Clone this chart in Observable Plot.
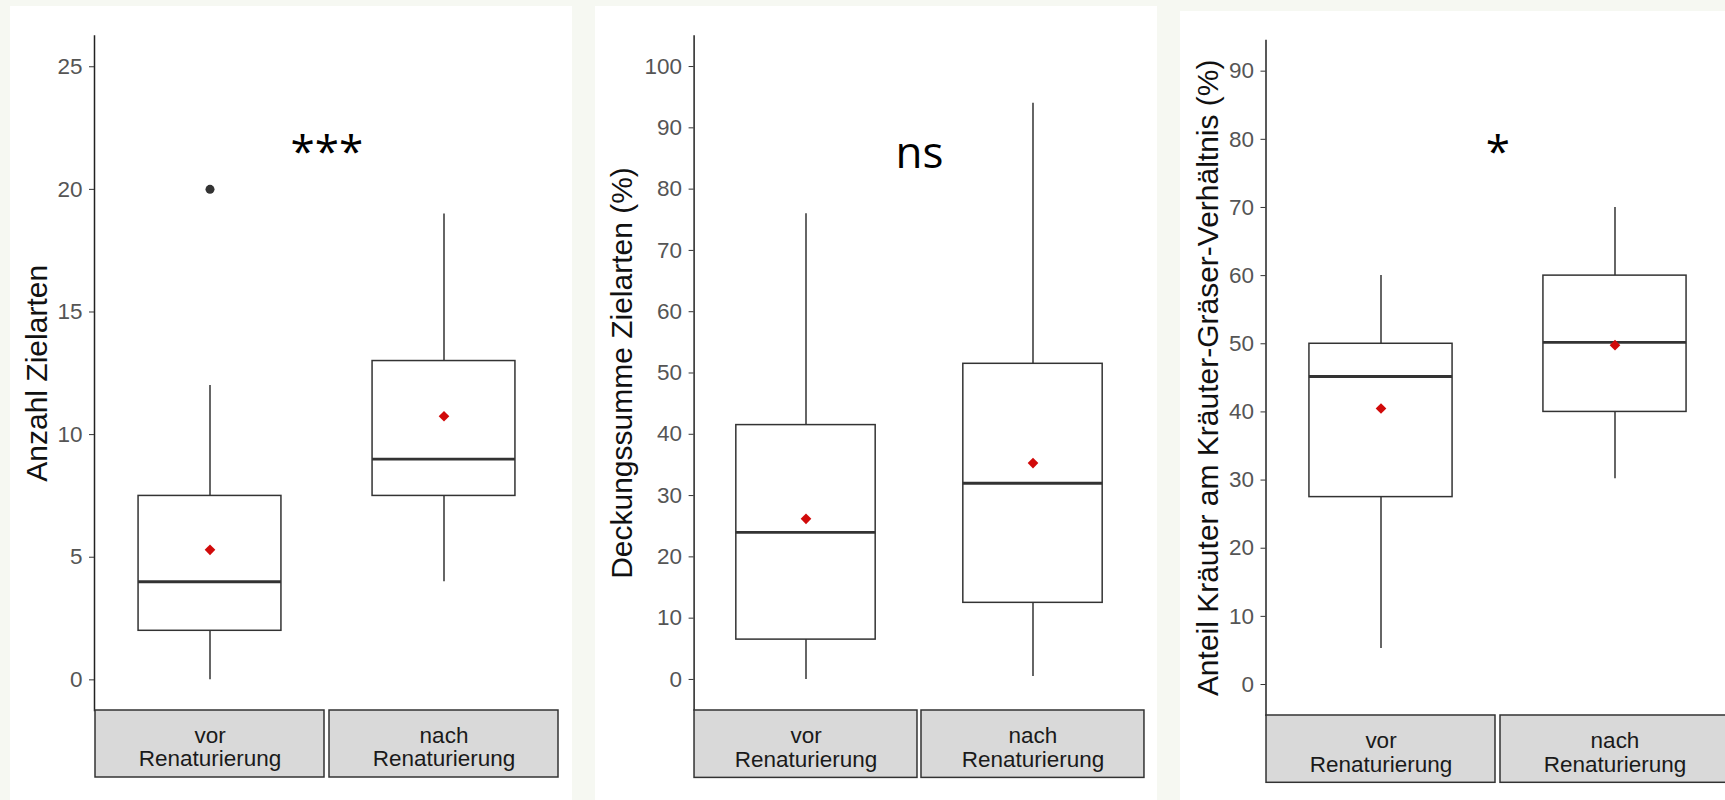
<!DOCTYPE html>
<html><head><meta charset="utf-8">
<script src="https://cdn.jsdelivr.net/npm/d3@7"></script>
<script src="https://cdn.jsdelivr.net/npm/@observablehq/plot@0.6"></script>
<style>
html,body{margin:0;padding:0;width:1725px;height:800px;overflow:hidden;background:#f6f8f2;}
.panel{position:absolute;background:#fff;overflow:hidden;}
.panel svg{position:absolute;left:0;display:block;font-family:'Liberation Sans', Arial, Helvetica, sans-serif;}
</style></head><body>
<script>
// ---------- data ----------
const groups = ["vor Renaturierung", "nach Renaturierung"];
const stripLabels = ["vor\nRenaturierung", "nach\nRenaturierung"];

// Panel 1: Anzahl Zielarten
const anzahlTitle = "Anzahl Zielarten";
const anzahlLimits = [0, 25];
const anzahlTicks = [0, 5, 10, 15, 20, 25];
const anzahlLow = [0, 4];
const anzahlQ1 = [2, 7.5];
const anzahlMedian = [4, 9];
const anzahlQ3 = [7.5, 13];
const anzahlHigh = [12, 19];
const anzahlMean = [5.3, 10.75];
const anzahlOutliers = [[20], []];
const anzahlSig = "***";
const anzahlSigY = 20.9;

// Panel 2: Deckungssumme Zielarten (%)
const deckTitle = "Deckungssumme Zielarten (%)";
const deckLimits = [0, 100];
const deckTicks = [0, 10, 20, 30, 40, 50, 60, 70, 80, 90, 100];
const deckLow = [0, 0.5];
const deckQ1 = [6.5, 12.5];
const deckMedian = [24, 32];
const deckQ3 = [41.5, 51.5];
const deckHigh = [76, 94];
const deckMean = [26.2, 35.3];
const deckOutliers = [[], []];
const deckSig = "ns";
const deckSigY = 83.5;

// Panel 3: Anteil Kräuter am Kräuter-Gräser-Verhältnis (%)
const anteilTitle = "Anteil Kräuter am Kräuter-Gräser-Verhältnis (%)";
const anteilLimits = [0, 90];
const anteilTicks = [0, 10, 20, 30, 40, 50, 60, 70, 80, 90];
const anteilLow = [5.3, 30.2];
const anteilQ1 = [27.5, 40];
const anteilMedian = [45.2, 50.2];
const anteilQ3 = [50, 60];
const anteilHigh = [60, 70];
const anteilMean = [40.5, 49.8];
const anteilOutliers = [[], []];
const anteilSig = "*";
const anteilSigY = 75.9;

// ---------- layout ----------
const panels = [
  {title: anzahlTitle, limits: anzahlLimits, ticks: anzahlTicks, low: anzahlLow, q1: anzahlQ1, median: anzahlMedian, q3: anzahlQ3, high: anzahlHigh, mean: anzahlMean, outliers: anzahlOutliers, sig: anzahlSig, sigY: anzahlSigY,
   div: {left: 10, top: 6, width: 562, height: 794}, frame: {left: 94, right: 558.6, top: 35.6, bottom: 710}, strip: {top: 710, bottom: 777}, gap: 5.3, titleDx: -47.5},
  {title: deckTitle, limits: deckLimits, ticks: deckTicks, low: deckLow, q1: deckQ1, median: deckMedian, q3: deckQ3, high: deckHigh, mean: deckMean, outliers: deckOutliers, sig: deckSig, sigY: deckSigY,
   div: {left: 595, top: 6, width: 562, height: 794}, frame: {left: 693.6, right: 1144.2, top: 35.4, bottom: 709.6}, strip: {top: 709.6, bottom: 777}, gap: 4.5, titleDx: -62},
  {title: anteilTitle, limits: anteilLimits, ticks: anteilTicks, low: anteilLow, q1: anteilQ1, median: anteilMedian, q3: anteilQ3, high: anteilHigh, mean: anteilMean, outliers: anteilOutliers, sig: anteilSig, sigY: anteilSigY,
   div: {left: 1180, top: 11, width: 560, height: 789}, frame: {left: 1265.5, right: 1729, top: 40, bottom: 714.7}, strip: {top: 714.7, bottom: 782}, gap: 5.5, titleDx: -47.7}
];

const FONT = "'Liberation Sans', Arial, Helvetica, sans-serif";
const SIGFONT = "'Open Sans', 'Noto Sans', sans-serif";

for (const P of panels) {
  const rows = groups.map((g, i) => ({group: g, low: P.low[i], q1: P.q1[i], median: P.median[i], q3: P.q3[i], high: P.high[i], mean: P.mean[i]}));
  const outlierRows = groups.flatMap((g, i) => P.outliers[i].map(v => ({group: g, value: v})));
  const span = P.limits[1] - P.limits[0];
  const domain = [P.limits[0] - 0.05 * span, P.limits[1] + 0.05 * span];

  const W = P.div.width;
  const mL = P.frame.left - P.div.left;
  const mR = P.div.left + W - P.frame.right;
  const range = P.frame.right - P.frame.left;
  const pad = 2 * P.gap / (range + P.gap);
  const bw = range * (1 - pad) / (2 - pad);
  const inset = bw * 0.1875;

  const div = document.createElement("div");
  div.className = "panel";
  Object.assign(div.style, {left: P.div.left + "px", top: P.div.top + "px", width: W + "px", height: P.div.height + "px"});
  document.body.appendChild(div);

  const xOpts = {type: "band", domain: groups, paddingInner: pad, paddingOuter: 0, axis: null};

  const main = Plot.plot({
    width: W,
    height: P.frame.bottom - P.div.top,
    marginLeft: mL, marginRight: mR, marginTop: P.frame.top - P.div.top, marginBottom: 0,
    style: {background: "transparent", fontFamily: FONT, overflow: "visible"},
    x: xOpts,
    y: {domain, axis: null},
    marks: [
      Plot.ruleX(rows, {x: "group", y1: "low", y2: "high", stroke: "#333", strokeWidth: 1.5}),
      Plot.barY(rows, {x: "group", y1: "q1", y2: "q3", fill: "white", stroke: "#333", strokeWidth: 1.5, insetLeft: inset, insetRight: inset}),
      Plot.tickY(rows, {x: "group", y: "median", stroke: "#333", strokeWidth: 2.9, insetLeft: inset, insetRight: inset}),
      Plot.dot(outlierRows, {x: "group", y: "value", r: 4.5, fill: "#333"}),
      Plot.dot(rows, {x: "group", y: "mean", symbol: "diamond2", r: 4.8, fill: "#d10a0a"}),
      Plot.frame({anchor: "left", stroke: "#222", strokeWidth: 1.5}),
      Plot.axisY({ticks: P.ticks, tickSize: 5, tickPadding: 7, fontSize: 22.5, fontFamily: FONT, stroke: "#333", fill: "#555", label: null}),
      Plot.text([P.title], {frameAnchor: "left", rotate: -90, dx: P.titleDx, textAnchor: "middle", lineAnchor: "bottom", fontSize: 30, fontFamily: FONT, fill: "#111"}),
      Plot.text([{label: P.sig, y: P.sigY}], {y: "y", text: "label", fontFamily: SIGFONT, fontSize: 44, lineAnchor: "bottom", fill: "#000"})
    ]
  });
  main.style.top = "0px";
  div.appendChild(main);

  const stripH = P.strip.bottom - P.strip.top;
  const strip = Plot.plot({
    width: W,
    height: stripH + 3,
    marginLeft: mL, marginRight: mR, marginTop: 1, marginBottom: 2,
    style: {background: "transparent", fontFamily: FONT, overflow: "visible"},
    x: xOpts,
    marks: [
      Plot.cell(groups, {x: d => d, fill: "#d9d9d9", stroke: "#333", strokeWidth: 1.5, inset: 0}),
      Plot.text(groups, {x: d => d, text: (d, i) => stripLabels[i], fontSize: 22.5, fontFamily: FONT, lineHeight: 1.05, fill: "#1a1a1a", dy: 3})
    ]
  });
  strip.style.top = (P.strip.top - P.div.top - 1) + "px";
  div.appendChild(strip);
}
</script>
</body></html>
